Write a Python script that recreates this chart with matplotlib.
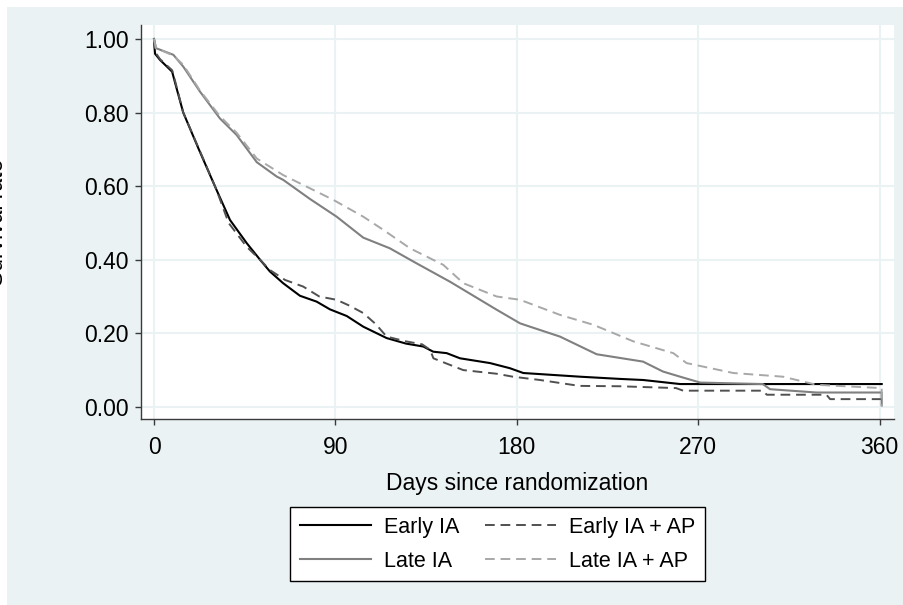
"""
Kaplan-Meier style survival curves, four treatment groups
"""
import matplotlib
matplotlib.use('Agg')
import matplotlib.pyplot as plt
from matplotlib.patches import Rectangle

plt.rcParams['font.family'] = ['Liberation Sans', 'DejaVu Sans']

# values (days, survival)
days_early = [0, 0.5, 3, 9, 10.5, 14.5, 22, 31, 37.7, 46, 52.6, 57.5, 64.1, 72.4, 80.7,
              87.3, 95.6, 103.8, 115.4, 125, 133.6, 138.5, 145.2, 151.8, 166.7, 176.6,
              183.2, 211.3, 231, 242.7, 261, 361]
surv_early = [1.0, 0.96, 0.943, 0.911, 0.88, 0.80, 0.703, 0.59, 0.508, 0.445, 0.40, 0.368,
              0.336, 0.302, 0.286, 0.265, 0.247, 0.218, 0.187, 0.172, 0.164, 0.150, 0.146,
              0.132, 0.119, 0.105, 0.092, 0.082, 0.076, 0.073, 0.062, 0.062]

days_early_ap = [0, 0.5, 3, 9, 10.5, 14.5, 22, 31, 37, 46, 52.6, 57.5, 65, 74, 82, 90.6,
                 97, 103.8, 110, 115.4, 125, 133, 137, 138.6, 145, 153.4, 170, 178,
                 191.5, 211, 231, 259, 262.5, 302, 304, 333.6, 335.4, 361]
surv_early_ap = [1.0, 0.965, 0.945, 0.915, 0.885, 0.80, 0.705, 0.59, 0.50, 0.435, 0.40,
                 0.372, 0.345, 0.327, 0.30, 0.291, 0.275, 0.255, 0.225, 0.191, 0.178,
                 0.170, 0.155, 0.132, 0.118, 0.10, 0.09, 0.082, 0.073, 0.057, 0.056,
                 0.051, 0.044, 0.044, 0.033, 0.033, 0.021, 0.021]

days_late = [0, 1, 9.6, 14.5, 22.8, 32.7, 41, 51, 60.9, 64.1, 77.4, 90.6, 103.8, 117,
             130.3, 146.9, 170, 181.6, 186.5, 201.4, 219.6, 242.6, 252.5, 261, 271, 302,
             305.6, 328.7, 361, 361]
surv_late = [1.0, 0.975, 0.957, 0.925, 0.857, 0.784, 0.739, 0.665, 0.626, 0.617, 0.565,
             0.517, 0.46, 0.431, 0.39, 0.34, 0.264, 0.227, 0.218, 0.191, 0.143, 0.123,
             0.096, 0.082, 0.066, 0.062, 0.048, 0.039, 0.039, 0.005]

days_late_ap = [0, 1, 9.6, 14.5, 22.8, 32.7, 41, 51, 64.1, 77.4, 89, 103.8, 113.8, 127,
                143.5, 153.5, 170, 181.6, 201.4, 218, 237.8, 257.6, 264.2, 287.4, 312,
                328.7, 361, 361]
surv_late_ap = [1.0, 0.975, 0.955, 0.93, 0.86, 0.79, 0.745, 0.675, 0.63, 0.594, 0.5625,
                0.517, 0.481, 0.431, 0.386, 0.336, 0.30, 0.291, 0.25, 0.223, 0.178, 0.146,
                0.119, 0.092, 0.082, 0.060, 0.051, 0.0]

x_ticks = [0, 90, 180, 270, 360]
y_ticks = [0.0, 0.2, 0.4, 0.6, 0.8, 1.0]
labels = ['Early IA', 'Early IA + AP', 'Late IA', 'Late IA + AP']

bg = '#eaf2f3'
fs = 16.5


def main():
    fig = plt.figure(figsize=(9.04, 6.05), dpi=100, facecolor='white')
    fig.patches.append(Rectangle((7 / 904, 0), 1, 1 - 7 / 605, transform=fig.transFigure,
                                 facecolor=bg, edgecolor='none', zorder=-10))

    ax = fig.add_axes([141 / 904, 1 - 419 / 605, (894 - 141) / 904, (419 - 25) / 605])
    ax.set_facecolor('white')

    l1, = ax.plot(days_early, surv_early, color='black', lw=1.5)
    l2, = ax.plot(days_early_ap, surv_early_ap, color='#505050', lw=1.4, dashes=(5, 3))
    l3, = ax.plot(days_late, surv_late, color='#808080', lw=1.5)
    l4, = ax.plot(days_late_ap, surv_late_ap, color='#a8a8a8', lw=1.4, dashes=(5, 3))

    ax.set_xlim(-6.45, 367.1)
    ax.set_ylim(-0.033, 1.038)
    ax.set_xticks(x_ticks)
    ax.set_yticks(y_ticks)
    ax.set_yticklabels(['%.2f' % v for v in y_ticks])
    ax.grid(True, color=bg, lw=1.5)
    ax.set_axisbelow(True)
    for s in ('top', 'right'):
        ax.spines[s].set_visible(False)
    for s in ('left', 'bottom'):
        ax.spines[s].set_color('#3a3a3a')
        ax.spines[s].set_linewidth(1.0)
    ax.tick_params(direction='out', length=4, width=1, color='#3a3a3a', labelsize=fs)
    ax.tick_params(axis='x', pad=8.5)
    ax.tick_params(axis='y', pad=5)
    ax.set_xlabel('Days since randomization', fontsize=fs, labelpad=9)

    fig.text(8 / 904, 1 - 222 / 605, 'Survival rate', rotation=90, fontsize=fs,
             ha='right', va='center')

    # row-wise order like the reference: Early IA | Early IA + AP / Late IA | Late IA + AP
    leg = fig.legend([l1, l3, l2, l4], [labels[0], labels[2], labels[1], labels[3]],
                     ncol=2, loc='upper center', borderaxespad=0,
                     bbox_to_anchor=(497.5 / 904, 1 - 507 / 605), fontsize=15.5,
                     frameon=True, fancybox=False, edgecolor='black', framealpha=1,
                     handlelength=3.3, handletextpad=0.6, columnspacing=1.2,
                     labelspacing=0.6, borderpad=0.45)
    leg.get_frame().set_linewidth(1.0)

    fig.savefig('out.png', dpi=100, facecolor='white')
    plt.close(fig)


if __name__ == '__main__':
    main()
